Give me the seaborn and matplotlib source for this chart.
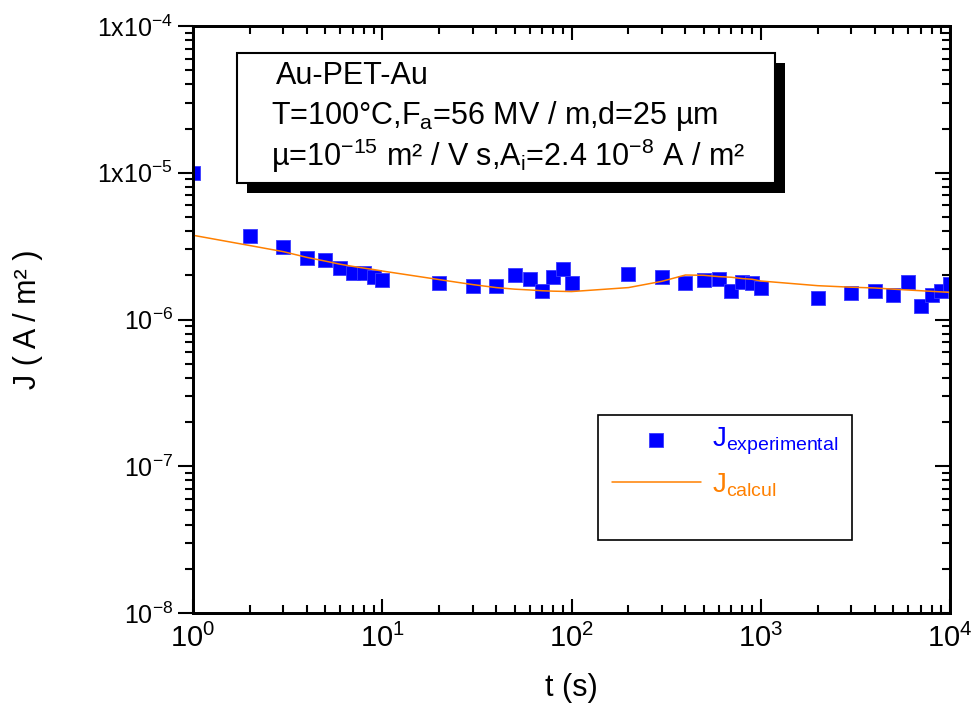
import matplotlib
matplotlib.use("Agg")
import matplotlib.pyplot as plt
from matplotlib import font_manager
from matplotlib.patches import Rectangle
from matplotlib.ticker import FixedLocator, LogLocator, NullFormatter
import seaborn as sns

# Measured current density J (A/m²) versus time t (s)
t_exp = [1, 2, 3, 4, 5, 6, 7, 8, 9, 10,
         20, 30, 40, 50, 60, 70, 80, 90, 100,
         200, 300, 400, 500, 600, 700, 800, 900, 1000,
         2000, 3000, 4000, 5000, 6000, 7000, 8000, 9000, 10000]
j_exp = [1.00e-5, 3.70e-6, 3.12e-6, 2.62e-6, 2.55e-6, 2.24e-6, 2.07e-6, 2.07e-6, 1.94e-6, 1.86e-6,
         1.77e-6, 1.69e-6, 1.69e-6, 2.01e-6, 1.89e-6, 1.57e-6, 1.96e-6, 2.21e-6, 1.77e-6,
         2.04e-6, 1.94e-6, 1.77e-6, 1.85e-6, 1.89e-6, 1.57e-6, 1.81e-6, 1.77e-6, 1.65e-6,
         1.40e-6, 1.52e-6, 1.57e-6, 1.48e-6, 1.80e-6, 1.24e-6, 1.48e-6, 1.56e-6, 1.75e-6]

# Calculated current density
t_fit = [1, 2, 3, 4, 5, 6, 7, 8, 9, 10,
         20, 30, 40, 50, 60, 70, 80, 90, 100,
         200, 300, 400, 500, 600, 700, 800, 900, 1000,
         2000, 3000, 4000, 5000, 10000]
j_fit = [3.75e-6, 3.19e-6, 2.90e-6, 2.65e-6, 2.50e-6, 2.38e-6, 2.30e-6, 2.24e-6, 2.19e-6, 2.14e-6,
         1.87e-6, 1.73e-6, 1.65e-6, 1.61e-6, 1.59e-6, 1.57e-6, 1.56e-6, 1.555e-6, 1.55e-6,
         1.65e-6, 1.82e-6, 2.01e-6, 2.00e-6, 1.96e-6, 1.94e-6, 1.90e-6, 1.88e-6, 1.83e-6,
         1.70e-6, 1.66e-6, 1.64e-6, 1.61e-6, 1.53e-6]

x_ticks = [1, 10, 100, 1000, 10000]
x_tick_labels = [r"$\mathregular{10^{0}}$", r"$\mathregular{10^{1}}$", r"$\mathregular{10^{2}}$",
                 r"$\mathregular{10^{3}}$", r"$\mathregular{10^{4}}$"]
y_ticks = [1e-8, 1e-7, 1e-6, 1e-5, 1e-4]
y_tick_labels = [r"$\mathregular{10^{-8}}$", r"$\mathregular{10^{-7}}$", r"$\mathregular{10^{-6}}$",
                 r"$\mathregular{1x10^{-5}}$", r"$\mathregular{1x10^{-4}}$"]

label_exp = r"$\mathregular{J_{experimental}}$"
label_fit = r"$\mathregular{J_{calcul}}$"
blue = "#0000FF"
orange = "#FF8000"

sns.set_theme(style="white")
installed = {f.name for f in font_manager.fontManager.ttflist}
narrow = "Liberation Sans Narrow" if "Liberation Sans Narrow" in installed else "Liberation Sans"
plt.rcParams["font.family"] = ["Liberation Sans", "DejaVu Sans"]
plt.rcParams["mathtext.fontset"] = "custom"
plt.rcParams["mathtext.rm"] = "Liberation Sans"
plt.rcParams["axes.linewidth"] = 2.0

fig = plt.figure(figsize=(9.75, 7.04), dpi=100)
fig.patch.set_facecolor("white")
ax = fig.add_axes([193 / 975, 91 / 704, 757 / 975, 587 / 704])
ax.set_xscale("log")
ax.set_yscale("log")

sns.scatterplot(x=t_exp, y=j_exp, ax=ax, marker="s", s=100, color=blue,
                edgecolor="#3a3aff", linewidth=0.6, label=label_exp, zorder=2)
sns.lineplot(x=t_fit, y=j_fit, ax=ax, color=orange, lw=1.1, label=label_fit, zorder=3)

ax.set_xlim(1, 1e4)
ax.set_ylim(1e-8, 1e-4)

for axis, ticks, labels in ((ax.xaxis, x_ticks, x_tick_labels), (ax.yaxis, y_ticks, y_tick_labels)):
    axis.set_major_locator(FixedLocator(ticks))
    axis.set_ticklabels(labels)
    axis.set_minor_locator(LogLocator(base=10, subs=range(2, 10), numticks=20))
    axis.set_minor_formatter(NullFormatter())

ax.tick_params(axis="x", which="both", direction="in", top=True, bottom=True,
               width=1.5, color="black")
ax.tick_params(axis="x", which="major", length=10, labelsize=21, pad=8,
               labelfontfamily=narrow, labelcolor="black")
ax.tick_params(axis="x", which="minor", length=5.5)
ax.tick_params(axis="y", which="both", direction="out", left=True, right=False,
               width=1.5, color="black")
ax.tick_params(axis="y", which="major", length=10.5, labelsize=18, pad=4, labelcolor="black")
ax.tick_params(axis="y", which="minor", length=5.5)

# inward ticks on the right frame edge
rax = ax.twinx()
rax.set_yscale("log")
rax.set_ylim(ax.get_ylim())
rax.yaxis.set_major_locator(FixedLocator(y_ticks))
rax.yaxis.set_minor_locator(LogLocator(base=10, subs=range(2, 10), numticks=20))
rax.yaxis.set_major_formatter(NullFormatter())
rax.yaxis.set_minor_formatter(NullFormatter())
rax.tick_params(axis="y", which="both", direction="in", right=True, left=False,
                labelright=False, width=1.5, color="black")
rax.tick_params(axis="y", which="major", length=10.5)
rax.tick_params(axis="y", which="minor", length=5.5)
rax.grid(False)
for sp in rax.spines.values():
    sp.set_linewidth(2.0)
    sp.set_color("black")
for sp in ax.spines.values():
    sp.set_linewidth(2.0)
    sp.set_color("black")
ax.grid(False)

ax.set_xlabel("t (s)", fontsize=22, fontfamily=narrow, color="black")
ax.set_ylabel("J ( A / m² )", fontsize=22, color="black")
ax.xaxis.set_label_coords(0.5, -0.102)
ax.yaxis.set_label_coords(-0.198, 0.5)


def px(x, y):
    """Pixel position in the figure to axes fraction."""
    return (x - 193) / 757, (613 - y) / 587


# Parameter box with drop shadow
x0, y0 = px(247, 193)
x1, y1 = px(785, 63)
ax.add_patch(Rectangle((x0, y0), x1 - x0, y1 - y0, transform=ax.transAxes,
                       facecolor="black", edgecolor="none", zorder=5, clip_on=False))
x0, y0 = px(237, 183)
x1, y1 = px(775, 53)
ax.add_patch(Rectangle((x0, y0), x1 - x0, y1 - y0, transform=ax.transAxes,
                       facecolor="white", edgecolor="black", lw=1.5, zorder=6, clip_on=False))
box_lines = [
    (276, 84, "Au-PET-Au"),
    (271, 124, r"T=100°C,F$_\mathregular{a}$=56 MV / m,d=25 µm"),
    (271, 166, r"µ=10$^\mathregular{-15}$ m² / V s,A$_\mathregular{i}$=2.4 10$^\mathregular{-8}$ A / m²"),
]
for bx, by, s in box_lines:
    tx, ty = px(bx, by)
    ax.text(tx, ty, s, transform=ax.transAxes, fontsize=22, va="baseline", ha="left",
            color="black", zorder=7)

# Legend with its own frame
x0, y0 = px(598, 540)
x1, y1 = px(852, 415)
ax.add_patch(Rectangle((x0, y0), x1 - x0, y1 - y0, transform=ax.transAxes,
                       facecolor="white", edgecolor="black", lw=1.2, zorder=4))
handles, labels = ax.get_legend_handles_labels()
order = [labels.index(label_exp), labels.index(label_fit)]
lx, ly = px(612, 426)
leg = ax.legend([handles[i] for i in order], [labels[i] for i in order],
                loc="upper left", bbox_to_anchor=(lx, ly), bbox_transform=ax.transAxes,
                frameon=False, fontsize=20, handlelength=3.2, handletextpad=0.4,
                labelspacing=0.5, borderpad=0.0, borderaxespad=0.0)
leg.set_zorder(8)
for txt, c in zip(leg.get_texts(), [blue, orange]):
    txt.set_color(c)

fig.savefig("out.png", dpi=100, facecolor="white")
